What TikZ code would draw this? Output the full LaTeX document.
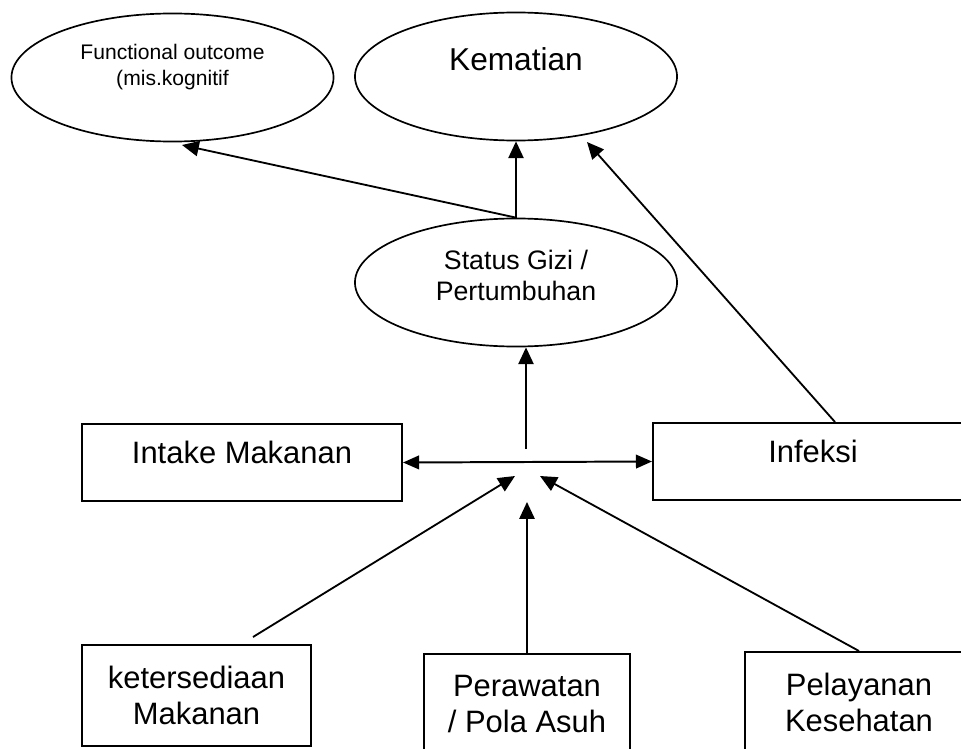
\documentclass[tikz,border=0pt]{standalone}
\usepackage{fontspec}
\setmainfont{Liberation Sans}
\usetikzlibrary{positioning,calc,shapes.geometric,arrows.meta}

\begin{document}
\begin{tikzpicture}[x=0.025cm,y=-0.025cm,
		oval/.style={ellipse,draw=black,line width=1.2pt,minimum width=8.05cm,minimum height=3.2cm},
		kotak/.style={draw=black,line width=1.4pt,inner sep=0pt,align=center,font=\fontsize{22}{25.6}\selectfont},
		panah/.style={line width=1.3pt,-{Triangle[length=0.42cm,width=0.38cm]}},
		panahdua/.style={line width=1.4pt,{Triangle[length=0.4cm,width=0.34cm]}-{Triangle[length=0.4cm,width=0.34cm]}}]
	\useasboundingbox (0,0) rectangle (961,749);
	% elips
	\node[oval,label={[font=\fontsize{15}{18.5}\selectfont,align=center,yshift=0.27cm]center:{Functional outcome\\(mis.kognitif}}] (fungsi) at (172.5,77.5) {};
	\node[oval,label={[font=\fontsize{22.5}{26}\selectfont,yshift=0.44cm]center:{Kematian}}] (mati) at (516,76.5) {};
	\node[oval,label={[font=\fontsize{19}{21.5}\selectfont,align=center,yshift=0.175cm]center:{Status Gizi /\\Pertumbuhan}}] (gizi) at (516,282.5) {};
	% kotak
	\node[kotak,minimum width=8cm,minimum height=1.925cm,text height=0.565cm,text depth=0.525cm] (intake) at (242,462.5) {Intake Makanan};
	\node[kotak,minimum width=8cm,minimum height=1.925cm,text height=0.565cm,text depth=0.525cm] (infeksi) at (813,461.5) {Infeksi};
	\node[kotak,minimum width=5.725cm,minimum height=2.525cm] (sedia) at (196.5,695.5) {ketersediaan\\Makanan};
	\node[kotak,minimum width=5.15cm,minimum height=2.5cm] (rawat) at (527,704) {Perawatan\\/ Pola Asuh};
	\node[kotak,minimum width=5.7cm,minimum height=2.5cm] (layan) at (859,702) {Pelayanan\\Kesehatan};
	% titik ujung
	\coordinate (pusat) at (526,449);
	\coordinate (ujungkiri) at (515,476);
	\coordinate (ujungkanan) at (540,476);
	\coordinate (ujungbawah) at (527,502);
	\coordinate (awalsedia) at (253,637);
	\coordinate (ujungmati) at (587,142);
	\coordinate (ujungfungsi) at (182,145);
	% panah
	\draw[panah] (gizi.north) -- (mati.south);
	\draw[panah] (gizi.north) -- (ujungfungsi);
	\draw[panah] ($(infeksi.north)+(22,0)$) -- (ujungmati);
	\draw[panah] (pusat) -- (pusat |- gizi.south);
	\draw[panahdua] (intake.east) -- (infeksi.west);
	\draw[panah] (awalsedia) -- (ujungkiri);
	\draw[panah] (rawat.north) -- (ujungbawah);
	\draw[panah] (layan.north) -- (ujungkanan);
\end{tikzpicture}
\end{document}
